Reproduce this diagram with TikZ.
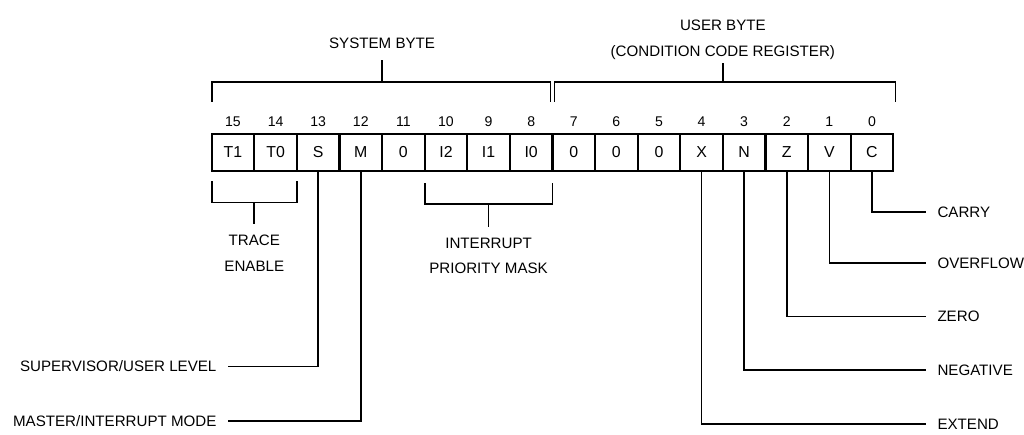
\documentclass[tikz,border=0pt]{standalone}
\usepackage{fontspec}
\setmainfont{Liberation Sans}
\usetikzlibrary{positioning}

\begin{document}
\begin{tikzpicture}[line width=1.1pt,
  every node/.style={font=\fontsize{10.1}{17}\selectfont},
  cell/.style={draw,line width=1.5pt,minimum width=1cm,minimum height=0.87cm,inner sep=0pt,
    font=\fontsize{10.6}{12}\selectfont},
  bitno/.style={font=\fontsize{9.4}{11}\selectfont},
  lbl/.style={inner xsep=0.25cm,text depth=0pt},
  brk/.style={align=center,inner ysep=7pt}]
  \useasboundingbox (-4.97,-6.2) rectangle (19.07,4.01);
  % register cells and bit numbers
  \foreach \b/\lab in {15/T1,14/T0,13/S,12/M,11/0,10/I2,9/I1,8/I0,7/0,6/0,5/0,4/X,3/N,2/Z,1/V,0/C}{
     \node[cell] (b\b) at ({15.5-\b},0.435) {\lab};
     \node[bitno] (n\b) at ({15.5-\b},1.15) {\b};
  }
  % byte brackets
  \node[brk,anchor=south] (sys) at (4,2.6) {SYSTEM BYTE};
  \node[brk,anchor=south,text depth=0pt,inner ysep=4pt] (usr) at (12,2.53) {USER BYTE\\(CONDITION CODE REGISTER)};
  \draw (0,1.62) |- (7.95,2.08) -- (7.95,1.62);
  \draw (4,2.08) -- (sys.south);
  \draw (8.05,1.62) |- (16.05,2.08) -- (16.05,1.62);
  \draw (12,2.08) -- (usr.south);
  % field brackets
  \node[brk,anchor=north] (trace) at (1,-1.25) {TRACE\\ENABLE};
  \node[brk,anchor=north] (ipm) at (6.5,-1.31) {INTERRUPT\\PRIORITY MASK};
  \draw (0,-0.25) |- (2,-0.74) -- (2,-0.25);
  \draw (1,-0.74) -- (trace.north);
  \draw (5,-0.29) |- (8,-0.78) -- (8,-0.29);
  \draw (6.5,-0.78) -- (ipm.north);
  % left labels
  \node[lbl,anchor=east] (sup) at (0.38,-4.59) {SUPERVISOR/USER LEVEL};
  \node[lbl,anchor=east] (mas) at (0.38,-5.88) {MASTER/INTERRUPT MODE};
  \draw (b13.south) |- (sup.east);
  \draw (b12.south) |- (mas.east);
  % condition code labels
  \foreach \b/\nm/\txt/\y in {0/car/CARRY/-0.97, 1/ovf/OVERFLOW/-2.17, 2/zer/ZERO/-3.42, 3/neg/NEGATIVE/-4.67, 4/ext/EXTEND/-5.94}{
     \node[lbl,anchor=west] (\nm) at (16.77,\y) {\txt};
     \draw (b\b.south) |- (\nm.west);
  }
\end{tikzpicture}
\end{document}
